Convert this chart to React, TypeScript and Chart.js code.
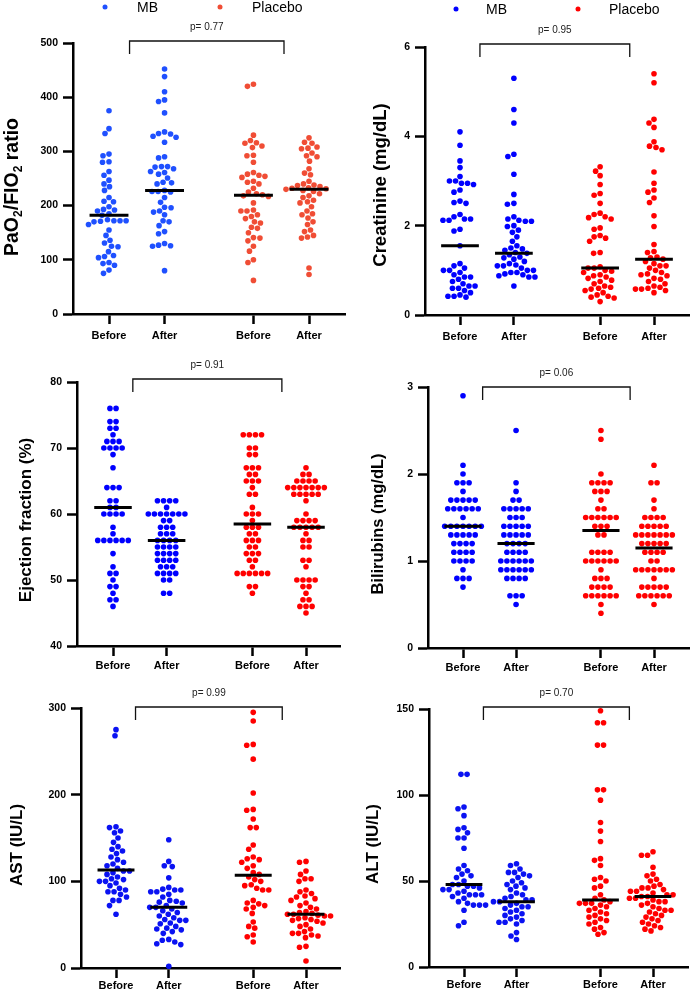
import React, { useEffect, useRef } from "react";
import { Chart, registerables } from "chart.js";
Chart.register(...registerables);

const FONT = 'Arial, "Liberation Sans", Helvetica, sans-serif';

// ---------- shared labels ----------
const groupLabels = ["Before", "After", "Before", "After"];
const groupPositions = [0, 1, 2.6, 3.6];
const legendLabels = ["MB", "Placebo"];

// ---------- PaO2/FIO2 ----------
const pao2MBBefore = [375, 342, 333, 295, 292, 281, 280, 263, 256, 247, 240, 235, 228, 215, 208, 207, 198, 193, 192, 190, 185, 182, 174, 172, 172, 172, 171, 170, 165, 155, 145, 136, 131, 125, 124, 115, 108, 106, 104, 95, 93, 90, 81, 75];
const pao2MBAfter = [452, 438, 410, 395, 392, 371, 336, 333, 332, 328, 326, 317, 290, 288, 272, 272, 271, 268, 263, 261, 258, 251, 243, 242, 240, 228, 226, 226, 225, 215, 206, 197, 196, 190, 188, 183, 172, 170, 163, 152, 148, 130, 127, 126, 125, 80];
const pao2PlBefore = [424, 420, 330, 320, 316, 315, 310, 307, 293, 292, 280, 261, 258, 256, 254, 252, 245, 243, 240, 232, 225, 222, 220, 218, 217, 205, 192, 190, 190, 183, 180, 176, 170, 168, 160, 158, 150, 141, 140, 135, 125, 116, 100, 95, 62];
const pao2PlAfter = [325, 317, 315, 308, 306, 305, 297, 292, 290, 282, 268, 260, 257, 245, 240, 238, 237, 235, 233, 232, 231, 230, 228, 226, 222, 218, 215, 210, 207, 205, 198, 190, 185, 183, 177, 170, 165, 155, 152, 145, 142, 140, 85, 73];
const pao2Medians = [182, 228, 219, 230];

// ---------- Creatinine ----------
const crMBBefore = [4.1, 3.8, 3.45, 3.3, 3.1, 3.0, 3.0, 2.95, 2.95, 2.92, 2.8, 2.75, 2.55, 2.52, 2.5, 2.25, 2.2, 2.15, 2.15, 2.12, 2.12, 1.92, 1.88, 1.55, 1.15, 1.1, 1.05, 1.0, 1.0, 0.95, 0.9, 0.85, 0.85, 0.8, 0.75, 0.7, 0.65, 0.65, 0.6, 0.6, 0.55, 0.5, 0.45, 0.42, 0.42, 0.4];
const crMBAfter = [5.3, 4.6, 4.3, 3.6, 3.55, 3.15, 2.7, 2.5, 2.48, 2.2, 2.15, 2.12, 2.1, 2.1, 2.0, 1.98, 1.9, 1.85, 1.75, 1.65, 1.55, 1.5, 1.48, 1.45, 1.4, 1.38, 1.35, 1.3, 1.28, 1.25, 1.2, 1.15, 1.12, 1.1, 1.1, 1.05, 1.0, 1.0, 0.95, 0.95, 0.92, 0.9, 0.88, 0.85, 0.85, 0.65];
const crPlBefore = [3.32, 3.22, 3.12, 2.92, 2.72, 2.68, 2.5, 2.28, 2.25, 2.2, 2.18, 2.15, 1.95, 1.92, 1.78, 1.75, 1.72, 1.65, 1.4, 1.38, 1.08, 1.05, 1.05, 1.0, 0.98, 0.95, 0.9, 0.88, 0.85, 0.82, 0.78, 0.75, 0.7, 0.65, 0.62, 0.6, 0.58, 0.55, 0.5, 0.45, 0.42, 0.4, 0.38, 0.3];
const crPlAfter = [5.4, 5.2, 4.38, 4.3, 4.2, 3.88, 3.78, 3.75, 3.7, 3.2, 2.95, 2.8, 2.75, 2.62, 2.52, 2.22, 1.98, 1.58, 1.42, 1.4, 1.3, 1.28, 1.25, 1.2, 1.15, 1.1, 1.1, 1.05, 1.0, 0.95, 0.92, 0.9, 0.88, 0.82, 0.8, 0.75, 0.7, 0.65, 0.62, 0.6, 0.58, 0.58, 0.55, 0.5];
const crMedians = [1.55, 1.38, 1.05, 1.25];

// ---------- Ejection fraction ----------
const efMBBefore = [76, 76, 74, 74, 73, 73, 72, 71, 71, 71, 70, 70, 70, 70, 69, 67, 64, 64, 64, 62, 62, 61, 61, 60, 60, 60, 60, 58, 57, 56, 56, 56, 56, 56, 56, 54, 52, 51, 51, 50, 49, 49, 48, 47, 47, 46];
const efMBAfter = [62, 62, 62, 62, 61, 60, 60, 60, 60, 60, 60, 60, 59, 59, 58, 58, 58, 57, 57, 57, 56, 56, 56, 56, 55, 55, 55, 55, 54, 54, 54, 54, 53, 53, 53, 53, 52, 52, 52, 51, 51, 51, 51, 50, 50, 48, 48];
const efPlBefore = [72, 72, 72, 72, 70, 70, 69, 69, 67, 67, 67, 66, 66, 65, 65, 65, 64, 63, 63, 61, 60, 60, 60, 59, 58, 58, 58, 57, 57, 56, 56, 56, 55, 55, 54, 54, 54, 53, 53, 52, 51, 51, 51, 51, 51, 51, 49, 49, 48];
const efPlAfter = [67, 66, 66, 65, 65, 65, 65, 64, 64, 64, 64, 64, 64, 64, 63, 63, 63, 63, 63, 62, 60, 59, 59, 59, 59, 58, 58, 58, 58, 58, 57, 56, 56, 55, 55, 53, 53, 52, 50, 50, 50, 50, 49, 49, 48, 47, 47, 46, 46, 46, 45];
const efMedians = [61, 56, 58.5, 58];

// ---------- Bilirubins ----------
const biMBBefore = [2.9, 2.1, 2.0, 1.9, 1.9, 1.9, 1.8, 1.7, 1.7, 1.7, 1.7, 1.7, 1.6, 1.6, 1.6, 1.6, 1.6, 1.6, 1.5, 1.4, 1.4, 1.4, 1.4, 1.4, 1.4, 1.4, 1.3, 1.3, 1.3, 1.3, 1.3, 1.2, 1.2, 1.2, 1.2, 1.1, 1.1, 1.1, 1.1, 1.0, 1.0, 1.0, 1.0, 0.9, 0.8, 0.8, 0.8, 0.7];
const biMBAfter = [2.5, 1.9, 1.8, 1.7, 1.7, 1.6, 1.6, 1.6, 1.6, 1.6, 1.5, 1.5, 1.5, 1.4, 1.4, 1.4, 1.4, 1.4, 1.3, 1.3, 1.3, 1.3, 1.3, 1.2, 1.2, 1.2, 1.2, 1.1, 1.1, 1.1, 1.1, 1.0, 1.0, 1.0, 1.0, 1.0, 1.0, 0.9, 0.9, 0.9, 0.9, 0.9, 0.9, 0.8, 0.8, 0.8, 0.8, 0.6, 0.6, 0.6, 0.5];
const biPlBefore = [2.5, 2.4, 2.0, 1.9, 1.9, 1.9, 1.9, 1.8, 1.8, 1.8, 1.7, 1.6, 1.6, 1.5, 1.5, 1.5, 1.5, 1.5, 1.5, 1.4, 1.4, 1.4, 1.3, 1.3, 1.1, 1.1, 1.1, 1.1, 1.0, 1.0, 1.0, 1.0, 1.0, 1.0, 0.9, 0.8, 0.8, 0.8, 0.7, 0.7, 0.7, 0.7, 0.6, 0.6, 0.6, 0.6, 0.6, 0.6, 0.5, 0.4];
const biPlAfter = [2.1, 1.9, 1.9, 1.7, 1.6, 1.5, 1.5, 1.5, 1.5, 1.4, 1.4, 1.4, 1.4, 1.4, 1.3, 1.3, 1.3, 1.3, 1.3, 1.3, 1.3, 1.2, 1.2, 1.2, 1.2, 1.2, 1.1, 1.1, 1.1, 1.1, 1.0, 1.0, 0.9, 0.9, 0.9, 0.9, 0.9, 0.9, 0.9, 0.8, 0.7, 0.7, 0.7, 0.7, 0.7, 0.6, 0.6, 0.6, 0.6, 0.6, 0.6, 0.5];
const biMedians = [1.4, 1.2, 1.35, 1.15];

// ---------- AST ----------
const astMBBefore = [275, 268, 163, 162, 158, 156, 150, 145, 140, 137, 135, 132, 128, 125, 122, 120, 118, 115, 112, 112, 110, 108, 105, 103, 102, 100, 100, 98, 95, 92, 90, 88, 88, 85, 82, 78, 78, 72, 62];
const astMBAfter = [148, 123, 118, 117, 104, 93, 91, 90, 90, 88, 88, 85, 82, 78, 77, 76, 75, 72, 70, 70, 68, 66, 64, 62, 60, 58, 56, 55, 55, 52, 51, 48, 46, 45, 44, 42, 40, 33, 32, 30, 28, 27, 2];
const astPlBefore = [295, 285, 258, 257, 241, 202, 183, 182, 172, 162, 162, 142, 137, 128, 126, 125, 122, 118, 115, 110, 108, 105, 102, 100, 96, 95, 92, 90, 90, 78, 75, 74, 72, 70, 68, 63, 53, 48, 46, 38, 36, 30];
const astPlAfter = [123, 122, 112, 108, 103, 103, 100, 90, 88, 86, 83, 82, 80, 78, 75, 72, 70, 68, 65, 64, 63, 62, 62, 61, 60, 60, 58, 57, 56, 55, 54, 52, 50, 48, 45, 42, 40, 40, 38, 37, 35, 25, 24, 8];
const astMedians = [113, 70, 107, 62];

// ---------- ALT ----------
const altMBBefore = [112, 112, 93, 92, 88, 81, 80, 78, 75, 75, 69, 59, 57, 56, 54, 53, 52, 50, 48, 48, 47, 47, 46, 45, 45, 44, 43, 42, 42, 42, 41, 40, 38, 37, 36, 36, 36, 33, 26, 24];
const altMBAfter = [60, 59, 57, 55, 55, 54, 53, 52, 50, 49, 48, 47, 46, 45, 43, 42, 41, 40, 39, 39, 38, 38, 37, 36, 35, 35, 34, 33, 32, 31, 30, 29, 28, 27, 26, 26, 25, 20, 18, 16];
const altPlBefore = [149, 142, 142, 129, 129, 103, 103, 97, 84, 79, 73, 63, 62, 59, 52, 51, 50, 47, 46, 42, 40, 39, 38, 37, 37, 37, 36, 35, 34, 33, 32, 31, 30, 29, 28, 27, 26, 25, 23, 22, 20, 19];
const altPlAfter = [67, 65, 65, 58, 54, 53, 51, 50, 48, 47, 46, 46, 45, 44, 44, 43, 42, 42, 41, 41, 40, 40, 39, 38, 38, 37, 36, 35, 34, 33, 33, 32, 31, 30, 29, 28, 27, 26, 25, 24, 23, 22, 21];
const altMedians = [48, 38, 39, 41];

// ---------- texts ----------
const pValues = ["p= 0.77", "p= 0.95", "p= 0.91", "p= 0.06", "p= 0.99", "p= 0.70"];
const yTitles: [string, boolean][][] = [
  [["PaO", false], ["2", true], ["/FIO", false], ["2", true], [" ratio", false]],
  [["Creatinine (mg/dL)", false]],
  [["Ejection fraction (%)", false]],
  [["Bilirubins (mg/dL)", false]],
  [["AST (IU/L)", false]],
  [["ALT (IU/L)", false]],
];
const yMins = [0, 0, 40, 0, 0, 0];
const yMaxs = [500, 6, 80, 3, 300, 150];
const ySteps = [100, 2, 10, 1, 100, 50];

const panelGroups = [
  [pao2MBBefore, pao2MBAfter, pao2PlBefore, pao2PlAfter],
  [crMBBefore, crMBAfter, crPlBefore, crPlAfter],
  [efMBBefore, efMBAfter, efPlBefore, efPlAfter],
  [biMBBefore, biMBAfter, biPlBefore, biPlAfter],
  [astMBBefore, astMBAfter, astPlBefore, astPlAfter],
  [altMBBefore, altMBAfter, altPlBefore, altPlAfter],
];
const panelMedians = [pao2Medians, crMedians, efMedians, biMedians, astMedians, altMedians];

// ---------- layout (pixels, local to each canvas) ----------
type Layout = {
  x: number; y: number; w: number; h: number;
  left: number; right: number; top: number; bottom: number;
  first: number; last: number; xPad: number;
  bracketY: number; titleX: number; titleY: number; titleSize: number;
  blue: string; red: string; legend?: { d1: number; t1: number; d2: number; t2: number; y: number };
};
const layouts: Layout[] = [
  { x: 0, y: 0, w: 346, h: 345, left: 73, right: 345, top: 43, bottom: 314, first: 109, last: 309, xPad: 5, bracketY: 41, titleX: 12.5, titleY: 187, titleSize: 19.5, blue: "#1f50ff", red: "#f04d35", legend: { d1: 105, t1: 137, d2: 220, t2: 252, y: 7 } },
  { x: 346, y: 0, w: 346, h: 345, left: 79, right: 343, top: 47, bottom: 315, first: 114, last: 308, xPad: 5, bracketY: 44, titleX: 35, titleY: 185, titleSize: 18.5, blue: "#0000ff", red: "#ff0000", legend: { d1: 110, t1: 140, d2: 232, t2: 263, y: 9 } },
  { x: 0, y: 330, w: 346, h: 345, left: 77, right: 340, top: 52, bottom: 316, first: 113, last: 306, xPad: 3, bracketY: 49, titleX: 26, titleY: 190, titleSize: 17, blue: "#0000ff", red: "#ff0000" },
  { x: 346, y: 330, w: 346, h: 345, left: 82, right: 343, top: 57, bottom: 318, first: 117, last: 308, xPad: 3, bracketY: 57, titleX: 32, titleY: 194, titleSize: 16.5, blue: "#0000ff", red: "#ff0000" },
  { x: 0, y: 660, w: 346, h: 331, left: 81, right: 340, top: 48, bottom: 308, first: 116, last: 306, xPad: 1, bracketY: 47, titleX: 17, titleY: 185, titleSize: 17, blue: "#0a12f2", red: "#ff0000" },
  { x: 346, y: 660, w: 346, h: 331, left: 83, right: 342, top: 49, bottom: 307, first: 118, last: 307, xPad: 1, bracketY: 47, titleX: 27, titleY: 184, titleSize: 17, blue: "#0a12f2", red: "#ff0000" },
];

const D = 6.1; // swarm spacing (px)
const R = 2.8; // point radius
const MEDIAN_HALF = 0.35;
const BRACKET_FROM = 0.37;
const BRACKET_TO = 3.15;

function swarm(py: number[], d: number): number[] {
  const idx = py.map((_, i) => i).sort((a, b) => py[a] - py[b]);
  const out = new Array(py.length).fill(0);
  const placed: { x: number; y: number }[] = [];
  let k = 0;
  while (k < idx.length) {
    let j = k;
    while (j < idx.length && Math.abs(py[idx[j]] - py[idx[k]]) < 0.01) j++;
    const n = j - k;
    const y = py[idx[k]];
    const near = placed.filter((p) => Math.abs(p.y - y) < d);
    let chosen = 0;
    for (let s = 0; s < 600; s++) {
      const c = (s % 2 === 0 ? 1 : -1) * Math.ceil(s / 2) * 0.5;
      let ok = true;
      for (let i = 0; i < n && ok; i++) {
        const x = c + (i - (n - 1) / 2) * d;
        for (const p of near) {
          const dy = p.y - y;
          const need = Math.sqrt(Math.max(0, d * d - dy * dy));
          if (Math.abs(p.x - x) < need - 0.01) { ok = false; break; }
        }
      }
      if (ok) { chosen = c; break; }
    }
    for (let i = 0; i < n; i++) {
      const x = chosen + (i - (n - 1) / 2) * d;
      out[idx[k + i]] = x;
      placed.push({ x, y });
    }
    k = j;
  }
  return out;
}

function makeDecor(pi: number) {
  const L = layouts[pi];
  return {
    id: "decor" + pi,
    afterDraw(chart: any) {
      const ctx = chart.ctx as CanvasRenderingContext2D;
      const xs = chart.scales.x;
      ctx.save();
      // bracket
      const x1 = xs.getPixelForValue(BRACKET_FROM);
      const x2 = xs.getPixelForValue(BRACKET_TO);
      const by = L.bracketY;
      ctx.strokeStyle = "#111";
      ctx.lineWidth = 1.3;
      ctx.beginPath();
      ctx.moveTo(x1, by + 13);
      ctx.lineTo(x1, by);
      ctx.lineTo(x2, by);
      ctx.lineTo(x2, by + 13);
      ctx.stroke();
      // p value
      ctx.fillStyle = "#222";
      ctx.font = `10px ${FONT}`;
      ctx.textAlign = "center";
      ctx.textBaseline = "middle";
      ctx.fillText(pValues[pi], (x1 + x2) / 2, by - 14);
      // legend
      if (L.legend) {
        const lg = L.legend;
        ctx.fillStyle = L.blue;
        ctx.beginPath(); ctx.arc(lg.d1, lg.y, 2.5, 0, Math.PI * 2); ctx.fill();
        ctx.fillStyle = L.red;
        ctx.beginPath(); ctx.arc(lg.d2, lg.y, 2.5, 0, Math.PI * 2); ctx.fill();
        ctx.fillStyle = "#000";
        ctx.font = `14px ${FONT}`;
        ctx.textAlign = "left";
        ctx.fillText(legendLabels[0], lg.t1, lg.y + 1);
        ctx.fillText(legendLabels[1], lg.t2, lg.y + 1);
      }
      // y title (rotated)
      const parts = yTitles[pi];
      const mainFont = `bold ${L.titleSize}px ${FONT}`;
      const subFont = `bold ${Math.round(L.titleSize * 0.62)}px ${FONT}`;
      let total = 0;
      const widths = parts.map(([t, sub]) => {
        ctx.font = sub ? subFont : mainFont;
        const w = ctx.measureText(t).width;
        total += w;
        return w;
      });
      ctx.translate(L.titleX, L.titleY);
      ctx.rotate(-Math.PI / 2);
      ctx.fillStyle = "#000";
      ctx.textAlign = "left";
      ctx.textBaseline = "middle";
      let cx = -total / 2;
      parts.forEach(([t, sub], i) => {
        ctx.font = sub ? subFont : mainFont;
        ctx.fillText(t, cx, sub ? L.titleSize * 0.3 : 0);
        cx += widths[i];
      });
      ctx.restore();
    },
  };
}

function Panel({ pi }: { pi: number }) {
  const ref = useRef<HTMLCanvasElement | null>(null);
  const L = layouts[pi];
  useEffect(() => {
    if (!ref.current) return;
    const groups = panelGroups[pi];
    const medians = panelMedians[pi];
    const unitPx = (L.last - L.first) / (groupPositions[3] - groupPositions[0]);
    const xMin = groupPositions[0] - (L.first - L.left) / unitPx;
    const xMax = groupPositions[0] + (L.right - L.first) / unitPx;
    const colors = [L.blue, L.blue, L.red, L.red];
    const medianSets = medians.map((m, gi) => ({
      label: "median " + gi,
      data: [
        { x: groupPositions[gi] - MEDIAN_HALF, y: m },
        { x: groupPositions[gi] + MEDIAN_HALF, y: m },
      ],
      showLine: true,
      borderColor: "#000",
      borderWidth: 3,
      pointRadius: 0,
      order: 0,
    }));
    const pointSets = groups.map((vals, gi) => ({
      label: (gi < 2 ? legendLabels[0] : legendLabels[1]) + " " + groupLabels[gi],
      data: vals.map((v) => ({ x: groupPositions[gi], y: v })),
      backgroundColor: colors[gi],
      borderWidth: 0,
      pointRadius: R,
      pointHoverRadius: R,
      order: 1,
      clip: false as any,
    }));
    const tickFontY = { family: FONT, size: 10.5, weight: "bold" as const };
    const tickFontX = { family: FONT, size: 11, weight: "bold" as const };
    const chart = new Chart(ref.current, {
      type: "scatter",
      data: { datasets: [...medianSets, ...pointSets] as any },
      options: {
        responsive: false,
        animation: false,
        devicePixelRatio: 1,
        events: [],
        layout: { padding: { left: 0, top: L.top, right: L.w - L.right, bottom: 0 }, autoPadding: false },
        plugins: { legend: { display: false }, tooltip: { enabled: false }, title: { display: false } },
        scales: {
          x: {
            type: "linear",
            min: xMin,
            max: xMax,
            afterBuildTicks: (s: any) => { s.ticks = groupPositions.map((v) => ({ value: v })); },
            afterFit: (s: any) => { s.height = L.h - L.bottom; },
            ticks: {
              callback: (_v: any, i: number) => groupLabels[i],
              font: tickFontX,
              color: "#000",
              padding: L.xPad,
              autoSkip: false,
              maxRotation: 0,
            },
            grid: { drawOnChartArea: false, drawTicks: true, tickLength: 10, tickWidth: 2.5, color: "#000" },
            border: { display: true, width: 2.5, color: "#000" },
          },
          y: {
            type: "linear",
            min: yMins[pi],
            max: yMaxs[pi],
            afterFit: (s: any) => { s.width = L.left; },
            ticks: { stepSize: ySteps[pi], font: tickFontY, color: "#000", padding: 5 },
            grid: { drawOnChartArea: false, drawTicks: true, tickLength: 10, tickWidth: 2.5, color: "#000" },
            border: { display: true, width: 2.5, color: "#000" },
          },
        },
      } as any,
      plugins: [makeDecor(pi)],
    });
    // beeswarm layout in pixel space, converted back to x-scale units
    const ys = chart.scales.y;
    const xs = chart.scales.x;
    const unit = xs.getPixelForValue(1) - xs.getPixelForValue(0);
    groups.forEach((vals, gi) => {
      const offs = swarm(vals.map((v) => ys.getPixelForValue(v)), D);
      (chart.data.datasets[4 + gi] as any).data = vals.map((v, i) => ({ x: groupPositions[gi] + offs[i] / unit, y: v }));
    });
    chart.update();
    return () => chart.destroy();
  }, [pi]);
  return (
    <div style={{ position: "absolute", left: L.x, top: L.y, width: L.w, height: L.h }}>
      <canvas ref={ref} width={L.w} height={L.h} style={{ width: L.w, height: L.h, display: "block" }} />
    </div>
  );
}

export default function App() {
  return (
    <div style={{ position: "absolute", left: 0, top: 0, width: 692, height: 991, background: "#fff", overflow: "hidden" }}>
      {[0, 1, 2, 3, 4, 5].map((pi) => (
        <Panel key={pi} pi={pi} />
      ))}
    </div>
  );
}
